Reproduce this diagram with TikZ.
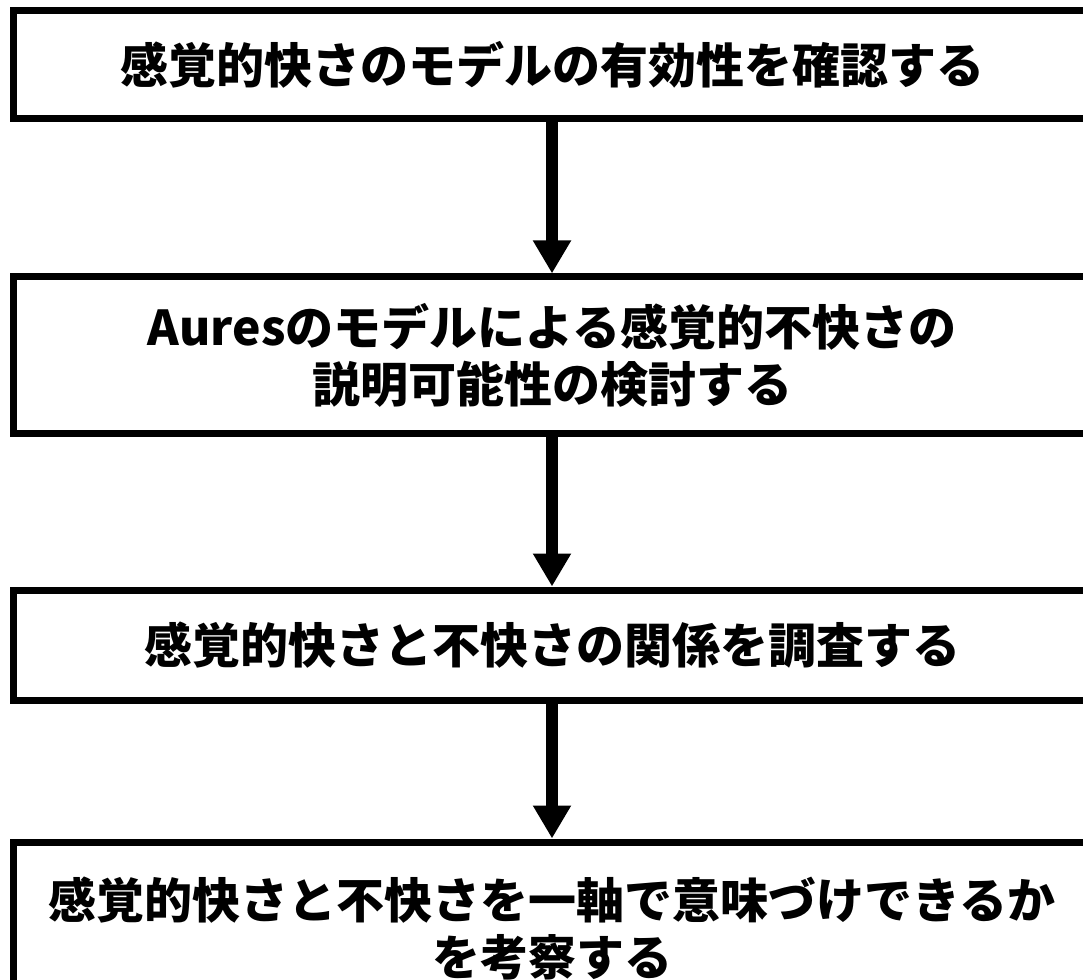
\documentclass[tikz,border=0pt]{standalone}
\usepackage{fontspec}
\newfontfamily\jp{Noto Sans CJK JP}
\usetikzlibrary{arrows.meta}
\tikzset{
  stepbox/.style={draw=black, line width=7pt, fill=white, rectangle, minimum width=1077pt, inner sep=0pt, align=center,
    font=\jp\bfseries\fontsize{48pt}{57pt}\selectfont},
  flow/.style={line width=11.5pt, -{Triangle[width=36pt,length=33pt]}}
}
\begin{document}
\begin{tikzpicture}[x=1pt,y=-1pt]
\useasboundingbox (0,0) rectangle (1083,979);
\begin{scope}
\clip (0,0) rectangle (1083,979);
\node[stepbox, minimum height=108pt] (b1) at (552,64.5) {感覚的快さのモデルの有効性を確認する};
\node[stepbox, minimum height=156.7pt] (b2) at (552,355.3) {Auresのモデルによる感覚的不快さの\\説明可能性の検討する};
\node[stepbox, minimum height=110pt] (b3) at (552,645) {感覚的快さと不快さの関係を調査する};
\node[stepbox, minimum height=174pt] (b4) at (552,929) {感覚的快さと不快さを一軸で意味づけできるか\\を考察する};
\draw[flow] (b1.south) -- (b2.north);
\draw[flow] (b2.south) -- (b3.north);
\draw[flow] (b3.south) -- (b4.north);
\end{scope}
\end{tikzpicture}
\end{document}
